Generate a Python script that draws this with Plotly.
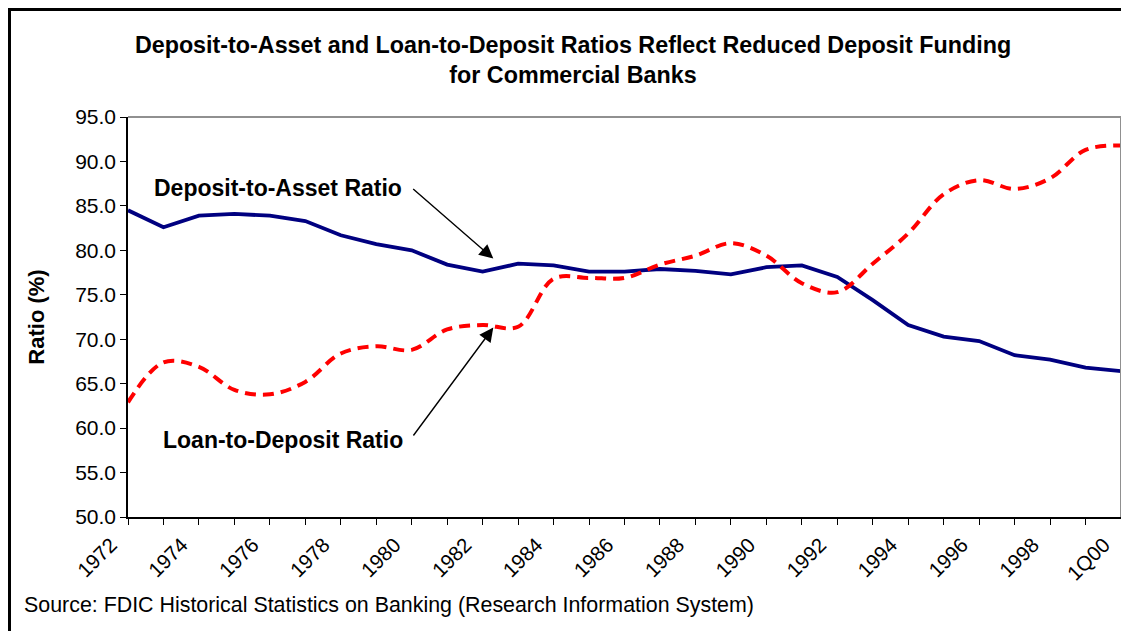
import plotly.graph_objects as go

categories = [str(y) for y in range(1972, 2000)] + ["1Q00"]
deposit_to_asset = [84.5, 82.6, 83.9, 84.1, 83.9, 83.3, 81.7, 80.7, 80.0, 78.4,
                    77.6, 78.5, 78.3, 77.6, 77.6, 77.9, 77.7, 77.3, 78.1, 78.3,
                    77.0, 74.4, 71.6, 70.3, 69.8, 68.2, 67.7, 66.8, 66.4]
loan_to_deposit = [62.9, 67.4, 66.9, 64.3, 63.8, 65.2, 68.4, 69.2, 68.8, 71.1,
                   71.6, 71.4, 76.8, 76.9, 76.9, 78.4, 79.4, 80.8, 79.4, 76.3,
                   75.3, 78.5, 81.9, 86.3, 87.9, 86.9, 88.1, 91.3, 91.8]
tick_labels = [c if i % 2 == 0 else "" for i, c in enumerate(categories)]

FONT = "Liberation Sans, Arial, sans-serif"

# page offset caused by default body margin
OFF = 8
PL, PT, PR, PB = 128, 117, 1121, 517  # plot area in page pixels
W, H = 1129 - OFF, 631 - OFF
L, T = PL - OFF, PT - OFF
R, B = W - (PR - OFF), H - (PB - OFF)
pw, ph = PR - PL, PB - PT


def px_x(p):
    return (p - PL) / pw


def px_y(p):
    return 1 - (p - PT) / ph


n = len(categories) - 1

fig = go.Figure()
fig.add_trace(go.Scatter(x=categories, y=deposit_to_asset, mode="lines",
                         line=dict(color="#000080", width=3.8),
                         name="Deposit-to-Asset Ratio", showlegend=False))
fig.add_trace(go.Scatter(x=categories, y=loan_to_deposit, mode="lines",
                         line=dict(color="#FF0000", width=4, dash="11px,7px",
                                   shape="spline", smoothing=1),
                         name="Loan-to-Deposit Ratio", showlegend=False))

fig.update_layout(
    width=W, height=H,
    margin=dict(l=L, r=R, t=T, b=B, autoexpand=False),
    paper_bgcolor="white", plot_bgcolor="white",
    font=dict(family=FONT, color="black"),
    title=dict(text="<b>Deposit-to-Asset and Loan-to-Deposit Ratios Reflect Reduced Deposit Funding<br>for Commercial Banks</b>",
               x=(573 - OFF) / W, xref="container", xanchor="center",
               y=1 - (53 - OFF) / H, yanchor="middle",
               font=dict(size=23.3, family=FONT, color="black")),
    xaxis=dict(type="category", range=[0, n],
               tickmode="array", tickvals=categories, ticktext=tick_labels,
               tickangle=-45, ticks="outside", ticklen=6, tickcolor="black",
               ticklabelshift=-17,
               showline=True, linecolor="black", linewidth=1.5,
               showgrid=False, zeroline=False,
               tickfont=dict(size=20.5, family=FONT)),
    yaxis=dict(range=[50, 95], dtick=5, tickformat=".1f",
               ticks="outside", ticklen=6, tickcolor="black",
               showline=True, linecolor="black", linewidth=1.5,
               showgrid=False, zeroline=False,
               tickfont=dict(size=21, family=FONT),
               title=dict(text="<b>Ratio (%)</b>", font=dict(size=22, family=FONT), standoff=24)),
    shapes=[
        dict(type="line", xref="paper", yref="paper", x0=0, x1=1, y0=1, y1=1,
             line=dict(color="#909090", width=2)),
        dict(type="line", xref="paper", yref="paper", x0=1, x1=1, y0=0, y1=1,
             line=dict(color="#909090", width=2)),
        dict(type="rect", xref="paper", yref="paper",
             x0=px_x(OFF + 1.5), x1=px_x(1145), y0=px_y(650), y1=px_y(OFF + 1.5),
             line=dict(color="black", width=3)),
    ],
    annotations=[
        dict(text="<b>Deposit-to-Asset Ratio</b>", xref="paper", yref="paper",
             x=px_x(278), y=px_y(188), xanchor="center", yanchor="middle",
             showarrow=False, font=dict(size=23, family=FONT)),
        dict(text="<b>Loan-to-Deposit Ratio</b>", xref="paper", yref="paper",
             x=px_x(283), y=px_y(440), xanchor="center", yanchor="middle",
             showarrow=False, font=dict(size=23, family=FONT)),
        dict(text="", xref="x", yref="y", x=px_x(493.3) * n,
             y=79.07, ax=-81.6, ay=-71, showarrow=True,
             arrowhead=2, arrowsize=2, arrowwidth=1.4, arrowcolor="black"),
        dict(text="", xref="x", yref="y", x=px_x(493.3) * n,
             y=71.31, ax=-81, ay=109.4, showarrow=True,
             arrowhead=2, arrowsize=2, arrowwidth=1.4, arrowcolor="black"),
        dict(text="Source: FDIC Historical Statistics on Banking (Research Information System)",
             xref="paper", yref="paper", x=px_x(22), y=px_y(605),
             xanchor="left", yanchor="middle", showarrow=False,
             font=dict(size=21.4, family=FONT)),
    ],
)

fig.write_html("out.html")
